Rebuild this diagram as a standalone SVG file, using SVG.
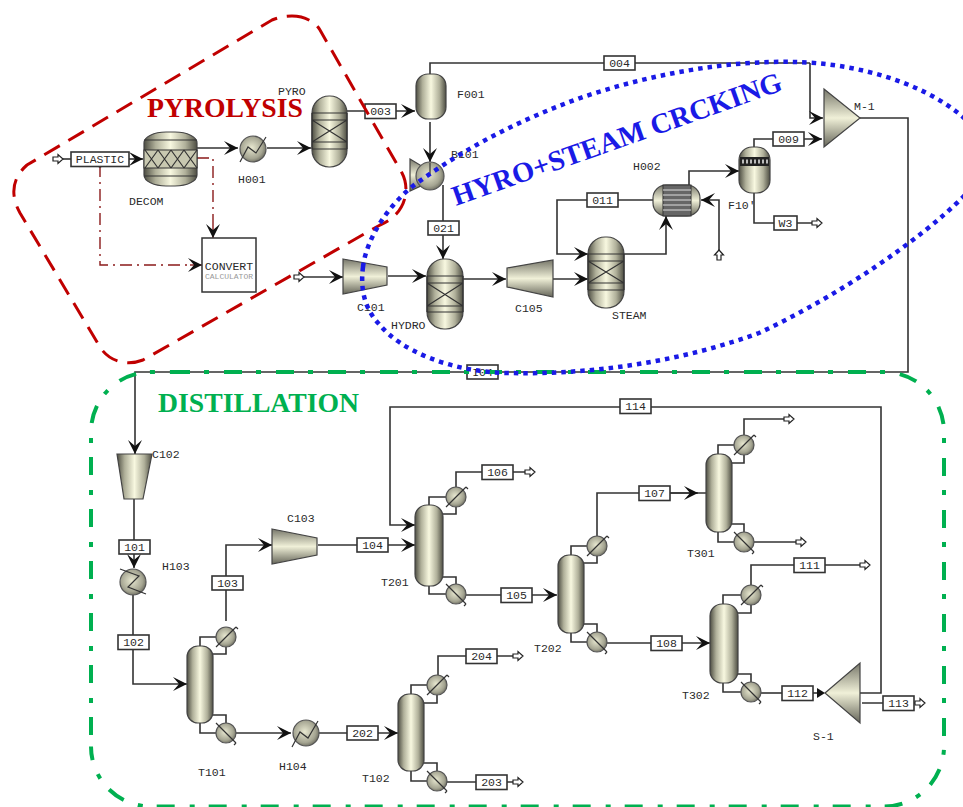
<svg xmlns="http://www.w3.org/2000/svg" width="963" height="807" viewBox="0 0 963 807">
<style>
text{font-family:"Liberation Mono","DejaVu Sans Mono",monospace;font-size:11.5px;fill:#2a2a2a}
.c{text-anchor:middle}
.big{font-family:"Liberation Serif","Times New Roman",serif;font-weight:bold;font-size:27.700px}
.ln{fill:none;stroke:#333;stroke-width:1.6}
.s{marker-end:url(#ah)}
.box{fill:#fff;stroke:#333;stroke-width:1.6}
.feed{fill:#fff;stroke:#222;stroke-width:1.2}
.ves{fill:url(#gh);stroke:#444;stroke-width:1.2}
.vv{fill:url(#gv);stroke:#444;stroke-width:1.2}
.rad{fill:url(#gr);stroke:#555;stroke-width:1.2}
.d{fill:none;stroke:#333;stroke-width:1.2}
.ctl{fill:none;stroke:#8b1a1a;stroke-width:1.4;stroke-dasharray:12 5 2 5}
.grn{fill:none;stroke:#00b050;stroke-width:4;stroke-dasharray:18 14 5 15}
</style>
<defs>
<linearGradient id="gh" x1="0" x2="1" y1="0" y2="0"><stop offset="0" stop-color="#4d4d42"/><stop offset=".22" stop-color="#b0b09a"/><stop offset=".5" stop-color="#f8f8e0"/><stop offset=".78" stop-color="#b0b09a"/><stop offset="1" stop-color="#4d4d42"/></linearGradient>
<linearGradient id="gv" x1="0" x2="0" y1="0" y2="1"><stop offset="0" stop-color="#77776a"/><stop offset=".5" stop-color="#f0f0d8"/><stop offset="1" stop-color="#66665a"/></linearGradient>
<radialGradient id="gr" cx=".45" cy=".45" r=".6"><stop offset="0" stop-color="#e8e8d0"/><stop offset=".7" stop-color="#a5a592"/><stop offset="1" stop-color="#66665a"/></radialGradient>
<marker id="ah" markerUnits="userSpaceOnUse" markerWidth="15" markerHeight="16" refX="14" refY="8" orient="auto" overflow="visible"><path d="M0 1 L14 8 L0 15 L6 8 Z" fill="#111"/></marker>
<path id="feed" class="feed" d="M0 -2 H5 V-4.5 L10 0 L5 4.5 V2 H0 Z"/>
<g id="cond"><circle r="10" class="rad"/><path class="d" d="M-10 10 L10 -10 M10 -10 l2 2"/></g>
<g id="reb"><circle r="10" class="rad"/><path class="d" d="M-10 -10 L10 10 M10 10 l-2 2"/></g>
</defs>

<g id="connectors">
<path class="ln" d="M62 159H71"/>
<path class="ln s" d="M129 159H143"/>
<path class="ln s" d="M197 148H238"/>
<path class="ln s" d="M267 148H311"/>
<path class="ln s" d="M347 111H415"/>
<path class="ln" d="M430 74V63H810"/>
<path class="ln s" d="M810 63V118H823"/>
<path class="ln s" d="M430 122V162"/>
<path class="ln s" d="M443 185V259"/>
<path class="ln s" d="M303 277H343"/>
<path class="ln s" d="M388 276H426"/>
<path class="ln s" d="M463 279H506"/>
<path class="ln s" d="M553 279H588"/>
<path class="ln s" d="M653 200H557V254H588"/>
<path class="ln s" d="M624 254H666V216"/>
<path class="ln s" d="M689 185V171H739"/>
<path class="ln s" d="M719 250V200H701"/>
<path class="ln s" d="M754 147V139H822"/>
<path class="ln" d="M754 193V223H812"/>
<path class="ln s" d="M860 118H908V372H135V454"/>
<path class="ln s" d="M134 499V568"/>
<path class="ln s" d="M133 595V684H187"/>
<path class="ln" d="M200 646V637H216M213 654H226V647M213 715H226V723M200 723V733H216"/>
<path class="ln s" d="M226 621V545H272"/>
<path class="ln s" d="M236 733H291"/>
<path class="ln s" d="M319 733H398"/>
<path class="ln" d="M411 694V685H427M424 703H437V695M424 763H437V771M411 771V781H427"/>
<path class="ln" d="M438 675V656H513"/>
<path class="ln" d="M447 782H513"/>
<path class="ln s" d="M318 545H415"/>
<path class="ln s" d="M860 693H881V407H390V525H415"/>
<path class="ln" d="M429 505V497H446M443 514H456V507M443 577H456V584M429 586V594H446"/>
<path class="ln" d="M456 487V472H525"/>
<path class="ln s" d="M466 595H557"/>
<path class="ln" d="M571 555V546H587M584 563H597V556M584 624H597V632M571 633V642H587"/>
<path class="ln" d="M597 536V493H706"/>
<path class="ln s" d="M640 493H698"/>
<path class="ln s" d="M607 643H710"/>
<path class="ln" d="M718 454V445H734M732 463H744V455M732 524H744V532M718 532V542H734"/>
<path class="ln" d="M744 435V419H784"/>
<path class="ln" d="M754 542H796"/>
<path class="ln" d="M723 604V595H741M738 613H751V605M738 674H751V682M723 683V692H741"/>
<path class="ln" d="M751 585V565H860"/>
<path class="ln" d="M761 693H782"/>
<path class="ln" d="M813 693H818"/>
<path d="M817 688L825 693L817 698Z" fill="#111"/>
<path class="ln" d="M862 703H915"/>
<path class="ctl" d="M100 165V265H190"/>
<path class="ln s" style="stroke:#8b1a1a;stroke-width:1.4" d="M190 265H202"/>
<path class="ctl" d="M197 158H213V226"/>
<path class="ln s" style="stroke:#8b1a1a;stroke-width:1.4" d="M213 226V238"/>
<circle cx="100" cy="165" r="2.500" fill="#111"/>
</g>

<g id="feeds">
<use href="#feed" transform="translate(53 159)"/>
<use href="#feed" transform="translate(294 277)"/>
<use href="#feed" transform="translate(719 260) rotate(-90)"/>
<use href="#feed" transform="translate(812 223)"/>
<use href="#feed" transform="translate(525 472)"/>
<use href="#feed" transform="translate(513 656)"/>
<use href="#feed" transform="translate(513 782)"/>
<use href="#feed" transform="translate(784 419)"/>
<use href="#feed" transform="translate(796 542)"/>
<use href="#feed" transform="translate(860 565)"/>
<use href="#feed" transform="translate(915 703)"/>
</g>

<g id="DECOM">
<rect class="ves" x="144" y="132" width="53" height="54" rx="22" ry="11"/>
<path class="d" d="M144 140H197M144 176H197"/>
<rect x="144" y="150" width="53" height="18" fill="#c8c8b0" stroke="#333"/>
<path class="d" d="M145 150l13 18M158 150l-13 18M158 150l13 18M171 150l-13 18M171 150l13 18M184 150l-13 18M184 150l13 18M197 150l-13 18"/>
<text x="129" y="205">DECOM</text>
</g>
<g id="H001"><circle cx="253" cy="149" r="13" class="rad"/><path class="d" d="M240 162L248 147L256 153L266 137"/><text x="238" y="183">H001</text></g>
<g id="PYRO">
<rect class="ves" x="312" y="96" width="35" height="71" rx="17"/>
<path class="d" d="M312 113H347M312 120H347M312 142H347M312 149H347M312 120L347 142M347 120L312 142M312 113V149M347 113V149"/>
<text x="278" y="95">PYRO</text>
</g>
<g id="F001"><rect class="ves" x="416" y="74" width="30" height="45" rx="12"/><text x="457" y="98">F001</text></g>
<g id="B101">
<path class="vv" d="M410 159L425 168V184L410 191Z"/>
<circle cx="430" cy="176" r="14" class="rad"/>
<path class="d" d="M430 163V175"/>
<text x="451" y="158">B101</text>
</g>
<g id="CONVERT">
<rect x="202" y="238" width="54" height="54" fill="#fff" stroke="#333" stroke-width="1.5"/>
<text class="c" x="229" y="270">CONVERT</text>
<text class="c" x="229" y="279" style="font-size:8px;fill:#999">CALCULATOR</text>
</g>
<g id="C101"><path class="vv" d="M343 259L387 267V285L343 294Z"/><text x="357" y="311">C101</text></g>
<g id="HYDRO">
<rect class="ves" x="427" y="259" width="36" height="70" rx="17"/>
<path class="d" d="M427 276H463M427 283H463M427 306H463M427 312H463M427 283L463 306M463 283L427 306M427 276V312M463 276V312"/>
<text x="391" y="329">HYDRO</text>
</g>
<g id="C105"><path class="vv" d="M507 268L553 260V297L507 287Z"/><text x="515" y="312">C105</text></g>
<g id="STEAM">
<rect class="ves" x="588" y="237" width="36" height="71" rx="17"/>
<path class="d" d="M588 254H624M588 261H624M588 283H624M588 290H624M588 261L624 283M624 261L588 283M588 254V290M624 254V290"/>
<text x="612" y="319">STEAM</text>
</g>
<g id="H002">
<rect class="vv" x="653" y="185" width="47" height="31" rx="13"/>
<rect x="663" y="185" width="28" height="31" fill="#666" stroke="#333"/>
<path d="M663 190H691M663 195H691M663 200H691M663 205H691M663 210H691" stroke="#ddd" stroke-width="1"/>
<text x="633" y="170">H002</text>
</g>
<g id="F10">
<rect class="ves" x="739" y="147" width="31" height="46" rx="13"/>
<rect x="740" y="157" width="29" height="9" fill="#222"/>
<path d="M742 161.500H768" stroke="#bbb" stroke-width="4" stroke-dasharray="2 2"/>
<text x="728" y="209">F10'</text>
</g>
<g id="M-1"><path class="vv" d="M824 89L860 118L824 147Z"/><text x="854" y="110">M-1</text></g>

<g id="C102"><path class="ves" d="M117 454H152L143 499H124Z"/><text x="152" y="458">C102</text></g>
<g id="H103"><circle cx="133" cy="582" r="13" class="rad"/><path class="d" d="M120 569L139 576L128 587L146 594"/><text x="162" y="570">H103</text></g>
<g id="T101"><rect class="ves" x="187" y="646" width="26" height="77" rx="11"/><use href="#cond" x="226" y="637"/><use href="#reb" x="226" y="733"/><text x="198" y="776">T101</text></g>
<g id="H104"><circle cx="306" cy="733" r="13" class="rad"/><path class="d" d="M292 747L300 732L308 738L318 721"/><text x="279" y="770">H104</text></g>
<g id="T102"><rect class="ves" x="398" y="694" width="26" height="77" rx="11"/><use href="#cond" x="437" y="685"/><use href="#reb" x="437" y="781"/><text x="362" y="782">T102</text></g>
<g id="C103"><path class="vv" d="M272 529L317 538V555L272 564Z"/><text x="287" y="522">C103</text></g>
<g id="T201"><rect class="ves" x="415" y="505" width="28" height="81" rx="12"/><use href="#cond" x="456" y="497"/><use href="#reb" x="456" y="594"/><text x="381" y="586">T201</text></g>
<g id="T202"><rect class="ves" x="558" y="555" width="26" height="78" rx="11"/><use href="#cond" x="597" y="546"/><use href="#reb" x="597" y="642"/><text x="534" y="652">T202</text></g>
<g id="T301"><rect class="ves" x="706" y="454" width="26" height="78" rx="11"/><use href="#cond" x="744" y="445"/><use href="#reb" x="744" y="542"/><text x="687" y="557">T301</text></g>
<g id="T302"><rect class="ves" x="710" y="604" width="28" height="79" rx="12"/><use href="#cond" x="751" y="595"/><use href="#reb" x="751" y="692"/><text x="682" y="699">T302</text></g>
<g id="S-1"><path class="vv" d="M825 693L860 663V723Z"/><text x="813" y="740">S-1</text></g>

<g id="streams">
<g id="b-PLASTIC"><rect class="box" x="71" y="152" width="58" height="14.500"/><text class="c" x="100" y="163">PLASTIC</text></g>
<g id="b-003"><rect class="box" x="365" y="104" width="31" height="14.500"/><text class="c" x="380.500" y="115">003</text></g>
<g id="b-004"><rect class="box" x="604" y="56" width="31" height="14"/><text class="c" x="619.500" y="67">004</text></g>
<g id="b-021"><rect class="box" x="428" y="221" width="31" height="14"/><text class="c" x="443.500" y="232">021</text></g>
<g id="b-009"><rect class="box" x="773" y="132" width="31" height="14"/><text class="c" x="788.500" y="143">009</text></g>
<g id="b-011"><rect class="box" x="587" y="193" width="31" height="14"/><text class="c" x="602.500" y="204">011</text></g>
<g id="b-W3"><rect class="box" x="774" y="216" width="23" height="14"/><text class="c" x="785.500" y="227">W3</text></g>
<g id="b-I04"><rect class="box" x="467" y="365" width="31" height="14"/><text class="c" x="482.500" y="376">I04</text></g>
<g id="b-101"><rect class="box" x="119" y="540" width="31" height="14"/><text class="c" x="134.500" y="551">101</text></g>
<g id="b-102"><rect class="box" x="118" y="635" width="31" height="14.500"/><text class="c" x="133.500" y="646">102</text></g>
<g id="b-103"><rect class="box" x="212" y="576" width="31" height="14"/><text class="c" x="227.500" y="587">103</text></g>
<g id="b-104"><rect class="box" x="357" y="538" width="31" height="14"/><text class="c" x="372.500" y="549">104</text></g>
<g id="b-105"><rect class="box" x="501" y="588" width="31" height="14.500"/><text class="c" x="516.500" y="599">105</text></g>
<g id="b-106"><rect class="box" x="482" y="465" width="31" height="14.500"/><text class="c" x="497.500" y="476">106</text></g>
<g id="b-107"><rect class="box" x="639" y="486" width="31" height="14.500"/><text class="c" x="654.500" y="497">107</text></g>
<g id="b-108"><rect class="box" x="651" y="636" width="31" height="14.500"/><text class="c" x="666.500" y="647">108</text></g>
<g id="b-111"><rect class="box" x="794" y="558" width="31" height="14.500"/><text class="c" x="809.500" y="569">111</text></g>
<g id="b-112"><rect class="box" x="782" y="686" width="31" height="14.500"/><text class="c" x="797.500" y="697">112</text></g>
<g id="b-113"><rect class="box" x="883" y="696" width="31" height="14.500"/><text class="c" x="898.500" y="707">113</text></g>
<g id="b-114"><rect class="box" x="620" y="399" width="31" height="14.500"/><text class="c" x="635.500" y="410">114</text></g>
<g id="b-202"><rect class="box" x="347" y="726" width="31" height="14"/><text class="c" x="362.500" y="737">202</text></g>
<g id="b-203"><rect class="box" x="476" y="775" width="31" height="14.500"/><text class="c" x="491.500" y="786">203</text></g>
<g id="b-204"><rect class="box" x="466" y="649" width="31" height="14.500"/><text class="c" x="481.500" y="660">204</text></g>
</g>

<g id="regions">
<path d="M292 16C305 16 315 22 320 30L402 173C411 190 405 215 380 225L143 360C125 367 108 360 100 347L20 213C10 195 12 178 27 165L272 20C280 17 285 16 292 16Z" fill="none" stroke="#c00000" stroke-width="3" stroke-dasharray="18 10"/>
<path class="grn" d="M172 372H884A60 60 0 0 1 944 432V746.500A60 60 0 0 1 884 806.500H151A60 60 0 0 1 91 746.500"/>
<path class="grn" d="M91 735V432A60 60 0 0 1 151 372H172"/>
<path d="M363 267C366 240 388 204 417 183C470 145 520 120 580 98C650 74 730 60 795 62C850 63 920 80 963 117C1000 150 990 170 963 197C920 240 840 295 759 333C680 362 590 375 508 373C450 372 400 350 380 325C365 310 360 290 363 267Z" fill="none" stroke="#1a1ae6" stroke-width="4.500" stroke-dasharray="4.500 5"/>
<text class="big" x="147" y="117" style="fill:#c00000">PYROLYSIS</text>
<text class="big" x="158" y="412" style="fill:#00b050">DISTILLATION</text>
<text class="big" transform="translate(456 206) rotate(-19.500)" style="fill:#1a1ae6;font-size:28.500px">HYRO+STEAM CRCKING</text>
</g>
</svg>
